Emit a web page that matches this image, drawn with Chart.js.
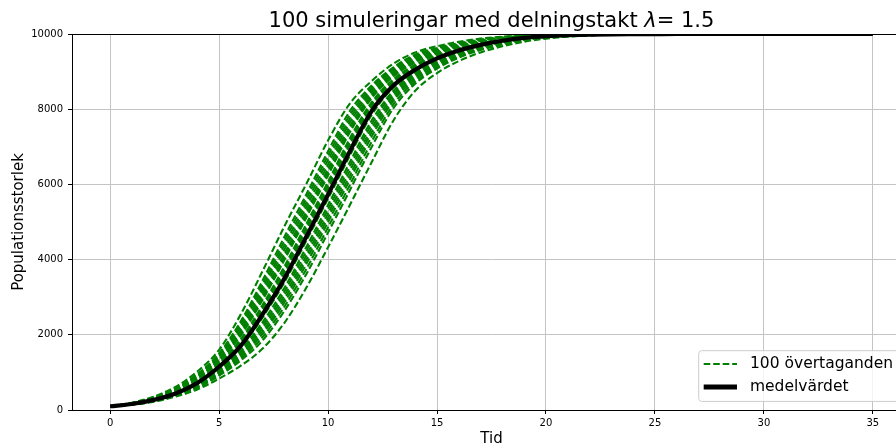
<!DOCTYPE html>
<html>
<head>
<meta charset="utf-8">
<title>Populationstillväxt</title>
<script src="https://cdn.jsdelivr.net/npm/chart.js@4.4.1/dist/chart.umd.min.js"></script>
<style>
  html, body { margin: 0; padding: 0; overflow: hidden; background: #ffffff; }
  canvas { display: block; }
</style>
</head>
<body>
<canvas id="chart" width="960" height="448"></canvas>
<script>
// Tidpunkter (x) för alla kurvor
const tid = [0,1,2,3,4,5,6,7,8,9,10,11,12,13,14,15,16,17,18,19,20,21,22,23,24,25,26,27,28,29,30,31,32,33,34,35];

// Medelvärdet av alla simuleringar
const medelvarde = [100,160,270,440,720,1150,1710,2550,3500,4610,5730,6880,7950,8630,9050,9350,9560,9710,9820,9895,9940,9967,9983,9992,9996,9998,10000,10000,10000,10000,10000,10000,10000,10000,10000,10000];

// Enskilda simuleringar (ett urval av banorna)
const sim01 = [100,193,356,616,1025,1600,2550,3700,4890,6010,7170,8150,8750,9210,9510,9675,9795,9878,9930,9961,9980,9990,9995,9998,10000,10000,10000,10000,10000,10000,10000,10000,10000,10000,10000,10000];
const sim02 = [100,186,337,575,955,1505,2365,3450,4610,5730,6880,7950,8630,9115,9450,9630,9760,9852,9915,9952,9975,9987,9994,9997,9999,10000,10000,10000,10000,10000,10000,10000,10000,10000,10000,10000];
const sim03 = [100,184,330,560,928,1468,2293,3355,4498,5618,6765,7850,8575,9075,9415,9605,9743,9841,9908,9948,9972,9986,9993,9997,9999,10000,10000,10000,10000,10000,10000,10000,10000,10000,10000,10000];
const sim04 = [100,181,322,545,900,1430,2220,3260,4385,5505,6650,7750,8520,9035,9380,9580,9725,9830,9901,9944,9969,9984,9992,9996,9998,10000,10000,10000,10000,10000,10000,10000,10000,10000,10000,10000];
const sim05 = [100,179,315,530,880,1395,2150,3165,4275,5395,6530,7650,8460,8990,9345,9557,9708,9818,9894,9939,9966,9983,9992,9996,9998,10000,10000,10000,10000,10000,10000,10000,10000,10000,10000,10000];
const sim06 = [100,176,308,520,850,1360,2085,3070,4160,5280,6415,7545,8395,8950,9305,9525,9688,9803,9884,9934,9963,9981,9991,9995,9997,9999,10000,10000,10000,10000,10000,10000,10000,10000,10000,10000];
const sim07 = [100,174,303,510,834,1330,2035,3003,4078,5198,6328,7465,8345,8913,9275,9505,9672,9793,9877,9930,9961,9980,9990,9994,9997,9999,10000,10000,10000,10000,10000,10000,10000,10000,10000,10000];
const sim08 = [100,172,298,500,818,1300,1985,2935,3995,5115,6240,7385,8295,8875,9245,9485,9655,9782,9870,9925,9958,9978,9989,9993,9997,9999,10000,10000,10000,10000,10000,10000,10000,10000,10000,10000];
const sim09 = [100,168,288,480,785,1250,1890,2800,3825,4945,6070,7225,8185,8800,9185,9450,9630,9760,9853,9916,9953,9975,9987,9992,9996,9998,10000,10000,10000,10000,10000,10000,10000,10000,10000,10000];
const sim10 = [100,166,284,470,768,1225,1845,2735,3743,4863,5985,7140,8128,8758,9150,9425,9613,9748,9845,9911,9950,9973,9986,9992,9996,9998,10000,10000,10000,10000,10000,10000,10000,10000,10000,10000];
const sim11 = [100,164,280,460,752,1200,1800,2670,3660,4780,5900,7055,8070,8715,9115,9400,9595,9735,9836,9906,9947,9971,9985,9992,9996,9998,10000,10000,10000,10000,10000,10000,10000,10000,10000,10000];
const sim12 = [100,159,266,433,705,1122,1665,2465,3400,4500,5620,6765,7850,8575,9015,9325,9540,9700,9812,9889,9936,9965,9982,9991,9995,9998,10000,10000,10000,10000,10000,10000,10000,10000,10000,10000];
const sim13 = [100,157,260,422,683,1080,1595,2340,3250,4330,5450,6590,7700,8490,8960,9280,9510,9675,9795,9878,9930,9961,9980,9990,9995,9998,10000,10000,10000,10000,10000,10000,10000,10000,10000,10000];
const sim14 = [100,155,255,415,665,1055,1555,2260,3150,4220,5340,6475,7600,8425,8920,9250,9490,9660,9785,9871,9926,9959,9978,9989,9994,9997,9999,10000,10000,10000,10000,10000,10000,10000,10000,10000];
const sim15 = [100,153,248,408,652,1025,1505,2185,3050,4105,5225,6360,7490,8360,8880,9225,9470,9645,9775,9864,9922,9956,9977,9988,9994,9997,9999,10000,10000,10000,10000,10000,10000,10000,10000,10000];
const sim16 = [100,152,245,400,635,1000,1470,2105,2955,3995,5115,6240,7385,8295,8840,9195,9455,9635,9765,9856,9918,9954,9975,9987,9993,9997,9999,10000,10000,10000,10000,10000,10000,10000,10000,10000];
const sim17 = [100,150,242,394,622,975,1425,2030,2865,3880,5000,6125,7275,8225,8795,9160,9420,9615,9752,9848,9913,9950,9973,9986,9993,9996,9998,10000,10000,10000,10000,10000,10000,10000,10000,10000];
const sim18 = [100,149,238,386,606,944,1373,1943,2753,3745,4860,5985,7135,8128,8738,9120,9395,9595,9736,9838,9907,9947,9971,9985,9993,9996,9998,10000,10000,10000,10000,10000,10000,10000,10000,10000];
const sim19 = [100,147,233,378,590,912,1320,1855,2640,3610,4720,5845,6995,8030,8680,9080,9370,9575,9720,9828,9900,9943,9969,9984,9992,9996,9998,10000,10000,10000,10000,10000,10000,10000,10000,10000];
const sim20 = [100,143,220,356,545,835,1180,1635,2320,3250,4330,5450,6590,7700,8490,8960,9280,9510,9675,9795,9878,9930,9961,9980,9990,9995,9998,10000,10000,10000,10000,10000,10000,10000,10000,10000];

const simuleringar = [sim01, sim02, sim03, sim04, sim05, sim06, sim07, sim08, sim09, sim10,
                      sim11, sim12, sim13, sim14, sim15, sim16, sim17, sim18, sim19, sim20];

// Axelmarkeringar
const xTicks = [0, 5, 10, 15, 20, 25, 30, 35];
const yTicks = [0, 2000, 4000, 6000, 8000, 10000];

// Texter
const titelDelar = ['100 simuleringar med delningstakt ', 'λ', '= 1.5'];
const xTitel = 'Tid';
const yTitel = 'Populationsstorlek';
const etikettSim = '100 övertaganden';
const etikettMedel = 'medelvärdet';

const FONT = "'DejaVu Sans', 'Liberation Sans', sans-serif";
const GREEN = '#008000';
const SIM_DASH = [6.6, 2.9];
const SIM_WIDTH = 2.1;
const SIM_LEGEND_WIDTH = 1.8;

const toPoints = arr => tid.map((t, i) => ({ x: t, y: arr[i] }));

const datasets = [
  {
    label: etikettMedel,
    data: toPoints(medelvarde),
    borderColor: '#000000',
    borderWidth: 4.2,
    pointRadius: 0,
    cubicInterpolationMode: 'monotone',
    fill: false,
    clip: 0,
    order: 0
  },
  ...simuleringar.map((s, i) => ({
    label: i === 0 ? etikettSim : '',
    data: toPoints(s),
    borderColor: GREEN,
    borderWidth: SIM_WIDTH,
    borderDash: SIM_DASH,
    pointRadius: 0,
    cubicInterpolationMode: 'monotone',
    fill: false,
    clip: 0,
    order: 1
  }))
];

// Ram runt ritytan (ovanpå kurvorna)
const spinesPlugin = {
  id: 'spines',
  afterDatasetsDraw(chart) {
    const { ctx, chartArea: a } = chart;
    ctx.save();
    ctx.strokeStyle = '#000000';
    ctx.lineWidth = 1;
    ctx.strokeRect(Math.round(a.left) + 0.5, Math.round(a.top) + 0.5,
                   Math.round(a.right - a.left), Math.round(a.bottom - a.top));
    ctx.restore();
  }
};

// Titel med kursivt lambda
const titlePlugin = {
  id: 'mixedTitle',
  afterDraw(chart) {
    const { ctx, chartArea: a } = chart;
    const size = 21;
    const fonts = [`${size}px ${FONT}`, `italic ${size}px ${FONT}`, `${size}px ${FONT}`];
    ctx.save();
    ctx.fillStyle = '#000000';
    ctx.textBaseline = 'alphabetic';
    ctx.textAlign = 'left';
    const widths = titelDelar.map((t, i) => { ctx.font = fonts[i]; return ctx.measureText(t).width; });
    const total = widths.reduce((p, w) => p + w, 0);
    let x = (a.left + a.right) / 2 - total / 2;
    const y = 27;
    titelDelar.forEach((t, i) => { ctx.font = fonts[i]; ctx.fillText(t, x, y); x += widths[i]; });
    ctx.restore();
  }
};

// Förklaring nere till höger
const legendPlugin = {
  id: 'boxLegend',
  afterDraw(chart) {
    const { ctx, chartArea: a } = chart;
    const sim = chart.data.datasets[1];
    const mean = chart.data.datasets[0];
    ctx.save();
    ctx.font = `15.5px ${FONT}`;
    const textW = Math.max(ctx.measureText(sim.label).width, ctx.measureText(mean.label).width);
    const right = a.right - 7.5;
    const bottom = a.bottom - 8.6;
    const h = 50.7;
    const w = 51.3 + textW + 10.5;
    const left = right - w;
    const top = bottom - h;
    const r = 3;
    ctx.beginPath();
    ctx.moveTo(left + r, top);
    ctx.lineTo(right - r, top);
    ctx.arcTo(right, top, right, top + r, r);
    ctx.lineTo(right, bottom - r);
    ctx.arcTo(right, bottom, right - r, bottom, r);
    ctx.lineTo(left + r, bottom);
    ctx.arcTo(left, bottom, left, bottom - r, r);
    ctx.lineTo(left, top + r);
    ctx.arcTo(left, top, left + r, top, r);
    ctx.closePath();
    ctx.fillStyle = 'rgba(255,255,255,0.8)';
    ctx.fill();
    ctx.strokeStyle = '#cccccc';
    ctx.lineWidth = 1;
    ctx.stroke();

    const rows = [
      { ds: sim, y: top + 13.3, width: SIM_LEGEND_WIDTH },
      { ds: mean, y: top + 36.3, width: 5 }
    ];
    rows.forEach(({ ds, y, width }) => {
      ctx.beginPath();
      ctx.strokeStyle = ds.borderColor;
      ctx.lineWidth = width;
      ctx.setLineDash(ds.borderDash || []);
      ctx.moveTo(left + 5, y);
      ctx.lineTo(left + 38.3, y);
      ctx.stroke();
      ctx.setLineDash([]);
      ctx.fillStyle = '#000000';
      ctx.textBaseline = 'middle';
      ctx.textAlign = 'left';
      ctx.fillText(ds.label, left + 51.3, y);
    });
    ctx.restore();
  }
};

new Chart(document.getElementById('chart'), {
  type: 'line',
  data: { datasets },
  plugins: [spinesPlugin, titlePlugin, legendPlugin],
  options: {
    responsive: false,
    animation: false,
    events: [],
    layout: { padding: { left: 0, right: 49, top: 34, bottom: 0 } },
    plugins: {
      legend: { display: false },
      title: { display: false },
      tooltip: { enabled: false }
    },
    scales: {
      x: {
        type: 'linear',
        min: -1.75,
        max: 36.75,
        afterBuildTicks: s => { s.ticks = xTicks.map(v => ({ value: v })); },
        afterFit: s => { s.height = 38; },
        ticks: {
          font: { family: FONT, size: 10 },
          color: '#000000',
          padding: 3,
          maxRotation: 0,
          autoSkip: false,
          callback: v => String(v)
        },
        grid: { color: '#c4c4c4', lineWidth: 1, tickLength: 4, tickColor: '#000000', drawTicks: true },
        border: { display: false },
        title: {
          display: true,
          text: xTitel,
          font: { family: FONT, size: 15 },
          color: '#000000',
          padding: { top: 0, bottom: 0 }
        }
      },
      y: {
        type: 'linear',
        min: 0,
        max: 10000,
        afterBuildTicks: s => { s.ticks = yTicks.map(v => ({ value: v })); },
        afterFit: s => { s.width = 72; },
        ticks: {
          font: { family: FONT, size: 10 },
          color: '#000000',
          padding: 5,
          callback: v => String(v)
        },
        grid: { color: '#c4c4c4', lineWidth: 1, tickLength: 4, tickColor: '#000000', drawTicks: true },
        border: { display: false },
        title: {
          display: true,
          text: yTitel,
          font: { family: FONT, size: 15 },
          color: '#000000',
          padding: { top: 10, bottom: 0 }
        }
      }
    }
  }
});
</script>
</body>
</html>
